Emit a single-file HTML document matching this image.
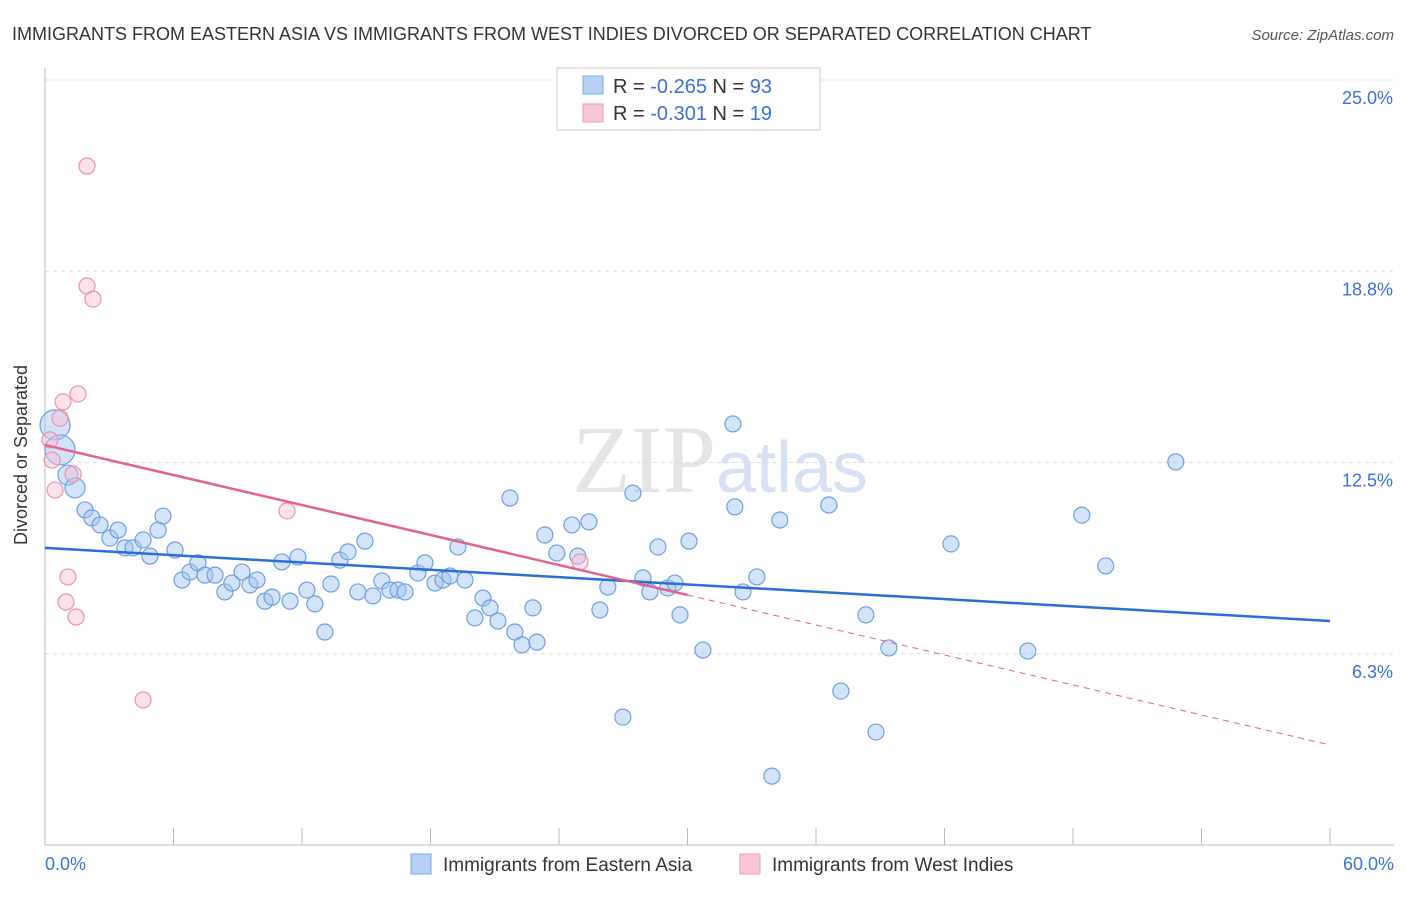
<!DOCTYPE html>
<html><head><meta charset="utf-8"><style>
body{margin:0;background:#fff;font-family:"Liberation Sans",sans-serif;}
svg text{font-family:"Liberation Sans",sans-serif;}
</style></head><body>
<svg width="1406" height="892">
<text x="12" y="40" font-size="18" fill="#333">IMMIGRANTS FROM EASTERN ASIA VS IMMIGRANTS FROM WEST INDIES DIVORCED OR SEPARATED CORRELATION CHART</text>
<text x="1394" y="40" font-size="15" fill="#555" font-style="italic" text-anchor="end">Source: ZipAtlas.com</text>
<text x="27" y="455" font-size="18" fill="#333" transform="rotate(-90 27 455)" text-anchor="middle">Divorced or Separated</text>
<text x="720" y="492" font-size="96" fill="#e4e4e4" text-anchor="middle" font-family="Liberation Serif"><tspan font-family="Liberation Serif">ZIP</tspan><tspan fill="#d6e2f3" font-family="Liberation Sans" font-size="72">atlas</tspan></text>
<g id="grid"></g><g id="axes"></g><g id="marks"></g>
<g>
<rect x="557" y="68" width="263" height="62" fill="#fff" stroke="#ccc"/>
<rect x="583" y="76" width="20" height="18" fill="#b7d1f5" stroke="#7fa8e6"/>
<rect x="583" y="104" width="20" height="18" fill="#f9c6d6" stroke="#ee9ab5"/>
<text x="613" y="93" font-size="20" fill="#333">R = <tspan fill="#3a72d6">-0.265</tspan>   N = <tspan fill="#3a72d6">93</tspan></text>
<text x="613" y="120" font-size="20" fill="#333">R = <tspan fill="#3a72d6">-0.301</tspan>   N = <tspan fill="#3a72d6"> 19</tspan></text>
</g>
<g>
<rect x="411" y="854" width="20" height="20" fill="#b7d1f5" stroke="#7fa8e6"/>
<text x="443" y="871" font-size="19" fill="#333">Immigrants from Eastern Asia</text>
<rect x="740" y="854" width="20" height="20" fill="#f9c6d6" stroke="#ee9ab5"/>
<text x="772" y="871" font-size="19" fill="#333">Immigrants from West Indies</text>
</g>
</svg>
<script>
const blueX=[0.47,0.70,1.07,1.4,1.87,2.19,2.57,3.03,3.41,3.73,4.11,4.58,4.9,5.28,5.51,6.07,6.4,6.77,7.14,7.47,7.94,8.4,8.73,9.2,9.57,9.9,10.27,10.6,11.06,11.44,11.81,12.23,12.6,13.07,13.35,13.77,14.15,14.61,14.94,15.31,15.73,16.1,16.48,16.81,17.41,17.74,18.21,18.58,18.91,19.28,19.61,20.07,20.45,20.78,21.15,21.71,21.94,22.27,22.78,22.97,23.34,23.9,24.6,24.88,25.4,25.91,26.28,26.98,27.45,27.92,28.24,28.62,29.08,29.41,29.65,30.07,30.72,32.12,32.21,32.59,33.24,33.94,34.31,36.6,37.16,38.33,38.8,39.4,42.3,45.89,48.41,49.53,52.8];
const blueY=[13.73,12.91,12.09,11.67,10.95,10.69,10.46,10.03,10.29,9.71,9.71,9.97,9.44,10.29,10.75,9.64,8.66,8.92,9.22,8.82,8.82,8.27,8.56,8.92,8.5,8.66,7.97,8.1,9.25,7.97,9.41,8.33,7.88,6.96,8.53,9.31,9.58,8.27,9.93,8.14,8.63,8.33,8.33,8.27,8.89,9.22,8.56,8.66,8.79,9.74,8.66,7.42,8.07,7.75,7.32,11.34,6.96,6.54,7.75,6.63,10.13,9.54,10.46,9.44,10.56,7.68,8.43,4.18,11.5,8.73,8.27,9.74,8.4,8.56,7.52,9.93,6.37,13.76,11.05,8.27,8.76,2.25,10.62,11.11,5.03,7.52,3.69,6.44,9.84,6.34,10.78,9.12,12.52];
const pinkX=[0.23,0.33,0.47,0.7,0.84,1.07,0.98,1.31,1.45,1.54,1.96,1.96,2.24,4.58,11.3,24.98];
const pinkY=[13.24,12.58,11.6,13.95,14.48,8.76,7.94,12.12,7.45,14.74,22.19,18.27,17.84,4.74,10.92,9.25];
const blueTrend=[9.71,7.32];
const pinkTrend=[13.07,3.27];
const yTicks=[6.3,12.5,18.8,25.0];
const NS='http://www.w3.org/2000/svg';
const sx=v=>45+v/60*1285, sy=v=>845-v*30.6;
function mk(t,a,p){const e=document.createElementNS(NS,t);for(const k in a)e.setAttribute(k,a[k]);p.appendChild(e);return e;}
const grid=document.getElementById('grid'),axes=document.getElementById('axes'),marks=document.getElementById('marks');
yTicks.forEach(t=>{const y=sy(t===6.3?6.25:t===18.8?18.75:t);
const l=mk('line',{x1:45,x2:1394,y1:y,y2:y,stroke:'#ddd','stroke-dasharray':'4,4'},grid);


const tx=mk('text',{x:1393,y:y+24,'font-size':18,fill:'#3a72d6','text-anchor':'end'},axes);tx.textContent=t.toFixed(1)+'%';

});
const ax=mk('line',{x1:45,x2:1394,y1:845,y2:845,stroke:'#bbb'},axes);


const ay=mk('line',{x1:45,x2:45,y1:68,y2:845,stroke:'#bbb'},axes);


for(let i=1;i<=10;i++){const x=sx(i*6);const t=mk('line',{x1:x,x2:x,y1:828,y2:845,stroke:'#bbb'},axes);

}
const x0=mk('text',{x:45,y:870,'font-size':18,fill:'#3a72d6'},axes);x0.textContent='0.0%';


const x1=mk('text',{x:1394,y:870,'font-size':18,fill:'#3a72d6','text-anchor':'end'},axes);x1.textContent='60.0%';


blueX.forEach((x,i)=>{const c=mk('circle',{cx:sx(x),cy:sy(blueY[i]),r:i<2?15:(i<4?10:8),fill:'rgba(160,195,240,0.45)',stroke:'#6f9fe0','stroke-width':1.2},marks);

});
pinkX.forEach((x,i)=>{const c=mk('circle',{cx:sx(x),cy:sy(pinkY[i]),r:8,fill:'rgba(248,190,210,0.45)',stroke:'#ec92b0','stroke-width':1.2},marks);

});
const bt=mk('line',{x1:sx(0),y1:sy(blueTrend[0]),x2:sx(60),y2:sy(blueTrend[1]),stroke:'#2a6fd6','stroke-width':2.5},marks);


const pm=pinkTrend[0]+(pinkTrend[1]-pinkTrend[0])*0.5;
const pt=mk('line',{x1:sx(0),y1:sy(pinkTrend[0]),x2:sx(30),y2:sy(pm),stroke:'#e4628f','stroke-width':2.5},marks);


const pd=mk('line',{x1:sx(30),y1:sy(pm),x2:sx(60),y2:sy(pinkTrend[1]),stroke:'#e4628f','stroke-width':1,'stroke-dasharray':'6,5'},marks);


</script>
</body></html>
